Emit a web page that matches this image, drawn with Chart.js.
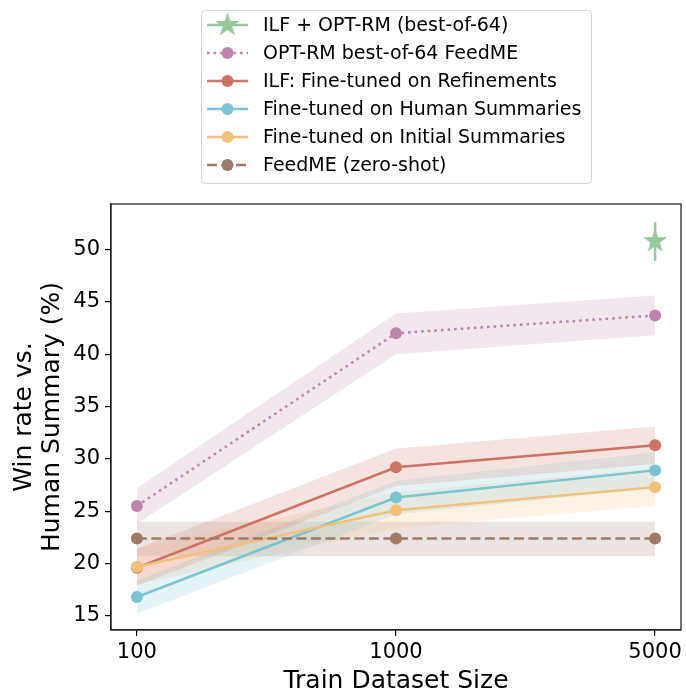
<!DOCTYPE html>
<html><head><meta charset="utf-8">
<script src="https://cdn.jsdelivr.net/npm/chart.js@4.4.0/dist/chart.umd.min.js"></script>
<style>html,body{margin:0;padding:0;background:#fff}canvas{display:block}</style>
</head><body>
<canvas id="c" width="686" height="692"></canvas>
<script>
const xLabels=['100','1000','5000'];
const yTicks=[15,20,25,30,35,40,45,50];
const seriesNames=['ILF + OPT-RM (best-of-64)','OPT-RM best-of-64 FeedME','ILF: Fine-tuned on Refinements','Fine-tuned on Human Summaries','Fine-tuned on Initial Summaries','FeedME (zero-shot)'];

// star point only at 5000
const ilfRm=[50.8];
const ilfRmErr=[48.9,52.6];

const bestFeedme=[25.5,42.0,43.7];
const bestFeedmeLow=[23.8,40.0,41.8];
const bestFeedmeHigh=[27.2,43.9,45.6];

const ilfRefine=[19.6,29.2,31.3];
const ilfRefineLow=[17.9,27.4,29.5];
const ilfRefineHigh=[21.4,31.0,33.1];

const humanFt=[16.8,26.3,28.9];
const humanFtLow=[15.2,24.7,27.2];
const humanFtHigh=[18.4,27.9,30.6];

const initialFt=[19.7,25.1,27.3];
const initialFtLow=[18.0,23.4,25.5];
const initialFtHigh=[21.4,26.8,29.1];

const zeroShot=[22.4,22.4,22.4];
const zeroShotLow=[20.7,20.7,20.7];
const zeroShotHigh=[24.0,24.0,24.0];

const colors={green:'#95c99b',purple:'#c083ae',red:'#cf7262',blue:'#79c3d3',orange:'#f4bf78',brown:'#a07967'};
const FONT='"DejaVu Sans", sans-serif';

function rgba(hex,a){
  const n=parseInt(hex.slice(1),16);
  return `rgba(${n>>16},${(n>>8)&255},${n&255},${a})`;
}
function makeStar(size,color){
  const c=document.createElement('canvas');
  c.width=c.height=size;
  const g=c.getContext('2d');
  const R=size/2, r=R*0.382;
  g.beginPath();
  for(let k=0;k<10;k++){
    const a=-Math.PI/2+k*Math.PI/5, rad=k%2?r:R;
    g.lineTo(size/2+rad*Math.cos(a),size/2+rad*Math.sin(a));
  }
  g.closePath();
  g.fillStyle=color;
  g.fill();
  return c;
}
const starImg=makeStar(26,colors.green);

const pts=arr=>arr.map((v,i)=>({x:i,y:v}));

function band(low,high,color){
  return [
    {data:pts(low),borderWidth:0,pointRadius:0,fill:false,order:100},
    {data:pts(high),borderWidth:0,pointRadius:0,fill:'-1',backgroundColor:rgba(color,0.2),order:100}
  ];
}
function line(vals,color,dash,order){
  return {data:pts(vals),borderColor:color,backgroundColor:color,borderWidth:2.5,borderDash:dash,
    pointRadius:6,pointHoverRadius:6,pointBorderWidth:0,pointBackgroundColor:color,fill:false,tension:0,order};
}

const datasets=[
  ...band(bestFeedmeLow,bestFeedmeHigh,colors.purple),
  ...band(ilfRefineLow,ilfRefineHigh,colors.red),
  ...band(humanFtLow,humanFtHigh,colors.blue),
  ...band(initialFtLow,initialFtHigh,colors.orange),
  ...band(zeroShotLow,zeroShotHigh,colors.brown),
  line(bestFeedme,colors.purple,[2.6,4],10),
  line(ilfRefine,colors.red,[],9),
  line(humanFt,colors.blue,[],8),
  line(initialFt,colors.orange,[],7),
  line(zeroShot,colors.brown,[10,4.5],6),
  {data:ilfRmErr.map(v=>({x:2,y:v})),borderColor:colors.green,borderWidth:2.5,pointRadius:0,fill:false,order:2},
  {data:ilfRm.map(v=>({x:2,y:v})),showLine:false,pointStyle:starImg,pointRadius:13,pointHoverRadius:13,order:1}
];

const legendItems=[
  {label:seriesNames[0],color:colors.green,dash:[],star:true},
  {label:seriesNames[1],color:colors.purple,dash:[2.6,4]},
  {label:seriesNames[2],color:colors.red,dash:[]},
  {label:seriesNames[3],color:colors.blue,dash:[]},
  {label:seriesNames[4],color:colors.orange,dash:[]},
  {label:seriesNames[5],color:colors.brown,dash:[10,4.5]}
];

const boxLegend={
  id:'boxLegend',
  afterDraw(chart){
    const ctx=chart.ctx;
    ctx.save();
    ctx.beginPath();
    ctx.roundRect(201.5,10.5,390,173,4);
    ctx.fillStyle='rgba(255,255,255,0.8)';
    ctx.fill();
    ctx.strokeStyle='#d4d4d4';
    ctx.lineWidth=1;
    ctx.stroke();
    legendItems.forEach((it,i)=>{
      const y=25+i*28;
      ctx.beginPath();
      ctx.setLineDash(it.dash);
      ctx.strokeStyle=it.color;
      ctx.lineWidth=2.5;
      ctx.moveTo(207,y);ctx.lineTo(248,y);
      ctx.stroke();
      ctx.setLineDash([]);
      if(it.star){
        ctx.drawImage(starImg,227.5-13,y-13);
      }else{
        ctx.beginPath();
        ctx.arc(227.5,y,6,0,Math.PI*2);
        ctx.fillStyle=it.color;
        ctx.fill();
      }
      ctx.fillStyle='#000';
      ctx.font='19px '+FONT;
      ctx.textBaseline='middle';
      ctx.textAlign='left';
      ctx.fillText(it.label,263,y+1);
    });
    ctx.restore();
  }
};
const frame={
  id:'frame',
  afterDatasetsDraw(chart){
    const a=chart.chartArea, ctx=chart.ctx;
    ctx.save();
    ctx.strokeStyle='#262626';
    ctx.lineWidth=1.3;
    ctx.strokeRect(a.left,a.top,a.right-a.left,a.bottom-a.top);
    ctx.restore();
  }
};

new Chart(document.getElementById('c'),{
  type:'line',
  data:{datasets},
  options:{
    responsive:false,
    animation:false,
    devicePixelRatio:1,
    layout:{autoPadding:false,padding:{top:204,right:4,left:0,bottom:0}},
    plugins:{legend:{display:false},tooltip:{enabled:false}},
    scales:{
      x:{
        type:'linear',min:-0.1,max:2.1,
        afterBuildTicks:s=>{s.ticks=xLabels.map((_,i)=>({value:i}));},
        afterFit:s=>{s.height=62;},
        ticks:{callback:v=>xLabels[v],color:'#000',font:{family:FONT,size:21},padding:4,maxRotation:0},
        grid:{drawOnChartArea:false,drawTicks:true,tickLength:6,color:'#000',lineWidth:1.2},
        border:{display:true,color:'#262626',width:1.3},
        title:{display:true,text:'Train Dataset Size',color:'#000',font:{family:FONT,size:25,lineHeight:1.1},padding:{top:0,bottom:-3}}
      },
      y:{
        type:'linear',min:13.65,max:54.35,
        afterBuildTicks:s=>{s.ticks=yTicks.map(v=>({value:v}));},
        afterFit:s=>{s.width=111;},
        ticks:{color:'#000',font:{family:FONT,size:21},padding:5},
        grid:{drawOnChartArea:false,drawTicks:true,tickLength:6,color:'#000',lineWidth:1.2},
        border:{display:true,color:'#262626',width:1.3},
        title:{display:true,text:['Win rate vs.','Human Summary (%)'],color:'#000',font:{family:FONT,size:25,lineHeight:1.1},padding:{top:11,bottom:0}}
      }
    }
  },
  plugins:[boxLegend,frame]
});
</script>
</body></html>
